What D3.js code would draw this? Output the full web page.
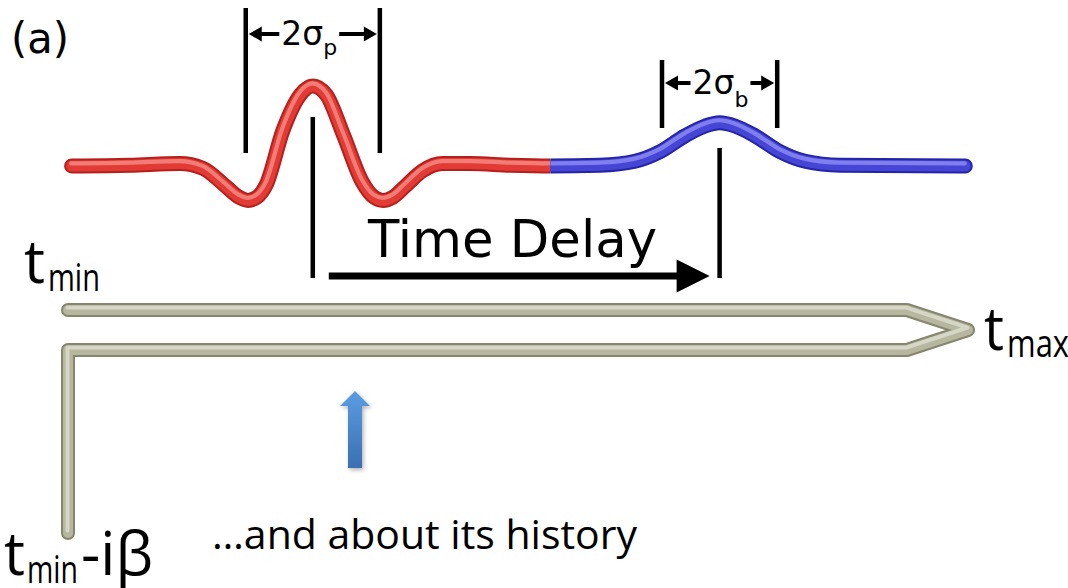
<!DOCTYPE html>
<html>
<head>
<meta charset="utf-8">
<script src="https://cdn.jsdelivr.net/npm/d3@7"></script>
<style>
  html, body { margin: 0; padding: 0; background: #ffffff; }
  svg { display: block; }
</style>
</head>
<body>
<svg id="fig" width="1068" height="588"></svg>
<script>
// Probe pulse (red) and bath response (blue): [time, amplitude]
const probeWave = [
  [0.4, 0], [6.9, 0.01], [12.4, 0.03], [15.0, -0.03], [17.4, -0.24], [19.0, -0.39],
  [20.0, -0.43], [21.0, -0.39], [22.0, -0.24], [23.9, 0.45], [25.8, 0.89], [27.2, 1.0], [28.7, 0.89],
  [30.6, 0.39], [32.7, -0.2], [34.0, -0.39], [35.0, -0.43], [36.1, -0.39], [37.5, -0.25],
  [39.4, -0.06], [41.6, 0.03], [44.7, 0.03], [49.1, 0.01], [53.6, 0]
];
const bathWave = [
  [53.6, 0], [59.1, 0.01], [63.0, 0.06], [65.8, 0.18], [68.6, 0.38], [70.8, 0.50],
  [72.4, 0.54], [74.1, 0.50], [76.3, 0.38], [79.1, 0.18], [81.9, 0.06], [85.8, 0.01],
  [99.7, 0]
];

// Pulse centres and widths (time units)
const peakTimes = [27.2, 72.4];
const sigmas = [7.45, 6.4];
const sigmaSubs = ["p", "b"];

// Keldysh contour: real-time branches [time, branch] (+1 forward, -1 backward, 0 turning point)
const contourReal = [[0, 1], [93.2, 1], [100, 0], [93.2, -1], [0, -1]];
// Imaginary-time leg [time, Im(t)/beta]
const contourImag = [[0, 0], [0, -1]];

// Text
const panelLabel = "(a)";
const delayLabel = "Time Delay";
const historyLabel = "\u2026and about its history";
const contourLabels = [
  { main: "t", sub: "min", tail: "" },
  { main: "t", sub: "max", tail: "" },
  { main: "t", sub: "min", tail: "-i\u03b2" }
];

// ---------- layout ----------
const W = 1068, H = 588;
const svg = d3.select("#fig");
const x = d3.scaleLinear().domain([0, 100]).range([68, 968]);
const yWave = d3.scaleLinear().domain([0, 1]).range([166, 86]);
const yBranch = d3.scaleLinear().domain([-1, 1]).range([350, 310]);
const yImag = d3.scaleLinear().domain([0, -1]).range([350, 533]);

const serifless = "'DejaVu Sans', Verdana, sans-serif";
const humanist = "'Open Sans', 'Noto Sans', sans-serif";

const defs = svg.append("defs");

// tube drawn as stacked strokes: dark rim, body, specular streak
function tube(g, d, c, w) {
  const base = s => s.attr("d", d).attr("fill", "none")
    .attr("stroke-linecap", "round").attr("stroke-linejoin", "round");
  base(g.append("path")).attr("stroke", c.edge).attr("stroke-width", w);
  base(g.append("path")).attr("stroke", c.body).attr("stroke-width", w - 4);
  base(g.append("path")).attr("stroke", c.hi).attr("stroke-width", w * 0.28)
    .attr("opacity", 0.85).attr("transform", `translate(-0.5,${-w * 0.17})`);
}

const red = { edge: "#b51f1c", body: "#e23a34", hi: "#f48a84" };
const blue = { edge: "#2424a6", body: "#4646d6", hi: "#8a8af2" };
const khaki = { edge: "#86866f", body: "#b7b7a0", hi: "#dcdccd" };

// ---------- wave ----------
const waveLine = d3.line()
  .x(d => x(d[0])).y(d => yWave(d[1]))
  .curve(d3.curveMonotoneX);
const fullWave = probeWave.concat(bathWave.slice(1));
const junction = x(bathWave[0][0]);

defs.append("clipPath").attr("id", "clipProbe")
  .append("rect").attr("x", 0).attr("y", 0).attr("width", junction).attr("height", H);
defs.append("clipPath").attr("id", "clipBath")
  .append("rect").attr("x", junction).attr("y", 0).attr("width", W - junction).attr("height", H);

tube(svg.append("g").attr("clip-path", "url(#clipProbe)"), waveLine(fullWave), red, 15);
tube(svg.append("g").attr("clip-path", "url(#clipBath)"), waveLine(fullWave), blue, 15);

// ---------- arrows ----------
function hArrow(g, x1, y, x2, shaft, headLen, headHalf) {
  const dir = Math.sign(x2 - x1);
  g.append("line")
    .attr("x1", x1).attr("y1", y).attr("x2", x2 - dir * headLen * 0.8).attr("y2", y)
    .attr("stroke", "#000").attr("stroke-width", shaft);
  g.append("path")
    .attr("d", `M${x2},${y} L${x2 - dir * headLen},${y - headHalf} L${x2 - dir * headLen},${y + headHalf} Z`)
    .attr("fill", "#000");
}

// ---------- width brackets ----------
const bracketLayout = [
  { top: 8, bottom: 153, arrowY: 34, subDy: 13 },
  { top: 60, bottom: 128, arrowY: 83, subDy: 16 }
];
const ann = svg.append("g");
peakTimes.forEach((tp, i) => {
  const L = bracketLayout[i];
  const xl = x(tp - sigmas[i]), xr = x(tp + sigmas[i]), xc = x(tp);
  [xl, xr].forEach(xx => ann.append("line")
    .attr("x1", xx).attr("x2", xx).attr("y1", L.top).attr("y2", L.bottom)
    .attr("stroke", "#000").attr("stroke-width", 4.5));
  const half = (xr - xl) / 2;
  const t = ann.append("text")
    .attr("x", xc - 0.47 * half).attr("y", L.arrowY + 11)
    .attr("font-family", serifless).attr("font-size", 33).attr("fill", "#000");
  t.append("tspan").text("2\u03c3");
  t.append("tspan").attr("dy", L.subDy - 3).attr("font-size", 22).text(sigmaSubs[i]);
  const bb = t.node().getBBox();
  hArrow(ann, bb.x - 2, L.arrowY, xl + 3, 4, 13, 7.5);
  hArrow(ann, bb.x + bb.width + 2, L.arrowY, xr - 3, 4, 13, 7.5);
});

// ---------- time delay ----------
const markerLayout = [{ top: 117, bottom: 278 }, { top: 148, bottom: 278 }];
peakTimes.forEach((tp, i) => {
  ann.append("line")
    .attr("x1", x(tp)).attr("x2", x(tp))
    .attr("y1", markerLayout[i].top).attr("y2", markerLayout[i].bottom)
    .attr("stroke", "#000").attr("stroke-width", 4.5);
});
hArrow(ann, x(peakTimes[0]) + 16, 276, x(peakTimes[1]) - 10, 7, 33, 16.5);
ann.append("text")
  .attr("x", 368).attr("y", 257)
  .attr("font-family", serifless).attr("font-size", 51).attr("fill", "#000")
  .attr("textLength", 289).attr("lengthAdjust", "spacingAndGlyphs")
  .text(delayLabel);

ann.append("text")
  .attr("x", 11).attr("y", 53)
  .attr("font-family", serifless).attr("font-size", 42).attr("fill", "#000")
  .attr("textLength", 58).attr("lengthAdjust", "spacingAndGlyphs")
  .text(panelLabel);

// ---------- contour ----------
const contourPts = contourReal.map(d => [x(d[0]), yBranch(d[1])])
  .concat(contourImag.slice(1).map(d => [x(d[0]), yImag(d[1])]));
tube(svg.append("g"), d3.line()(contourPts), khaki, 14);

// ---------- contour labels ----------
const contourLayout = [
  { mx: 24, my: 283, mLen: 21, sx: 48, sy: 291, sLen: 52 },
  { mx: 984, my: 350, mLen: 20, sx: 1007, sy: 357, sLen: 62 },
  { mx: 4, my: 575, mLen: 21, sx: 27, sy: 583, sLen: 51, tx: 81, tLen: 72 }
];
const lab = svg.append("g").attr("font-family", humanist).attr("fill", "#000");
contourLabels.forEach((c, i) => {
  const L = contourLayout[i];
  lab.append("text").attr("x", L.mx).attr("y", L.my).attr("font-size", 60)
    .attr("textLength", L.mLen).attr("lengthAdjust", "spacingAndGlyphs").text(c.main);
  lab.append("text").attr("x", L.sx).attr("y", L.sy).attr("font-size", 38)
    .attr("textLength", L.sLen).attr("lengthAdjust", "spacingAndGlyphs").text(c.sub);
  if (c.tail) {
    lab.append("text").attr("x", L.tx).attr("y", L.my).attr("font-size", 60)
      .attr("textLength", L.tLen).attr("lengthAdjust", "spacingAndGlyphs").text(c.tail);
  }
});

// ---------- history pointer ----------
const grad = defs.append("linearGradient").attr("id", "arrowBlue")
  .attr("x1", 0).attr("y1", 0).attr("x2", 0).attr("y2", 1);
grad.append("stop").attr("offset", "0%").attr("stop-color", "#5b9de2");
grad.append("stop").attr("offset", "100%").attr("stop-color", "#3b6fb3");
const shadow = defs.append("filter").attr("id", "softShadow")
  .attr("x", "-50%").attr("y", "-20%").attr("width", "200%").attr("height", "140%");
shadow.append("feDropShadow").attr("dx", 1.5).attr("dy", 2).attr("stdDeviation", 2)
  .attr("flood-color", "#000").attr("flood-opacity", 0.3);

const pX = 355, pTip = 391, pHeadBase = 406, pBottom = 468;
svg.append("path")
  .attr("d", `M${pX},${pTip} L${pX + 15},${pHeadBase} L${pX + 7},${pHeadBase} L${pX + 7},${pBottom}
              L${pX - 7},${pBottom} L${pX - 7},${pHeadBase} L${pX - 15},${pHeadBase} Z`)
  .attr("fill", "url(#arrowBlue)").attr("filter", "url(#softShadow)");

svg.append("text")
  .attr("x", 212).attr("y", 549)
  .attr("font-family", humanist).attr("font-size", 40).attr("fill", "#000")
  .attr("textLength", 425).attr("lengthAdjust", "spacingAndGlyphs")
  .text(historyLabel);
</script>
</body>
</html>
